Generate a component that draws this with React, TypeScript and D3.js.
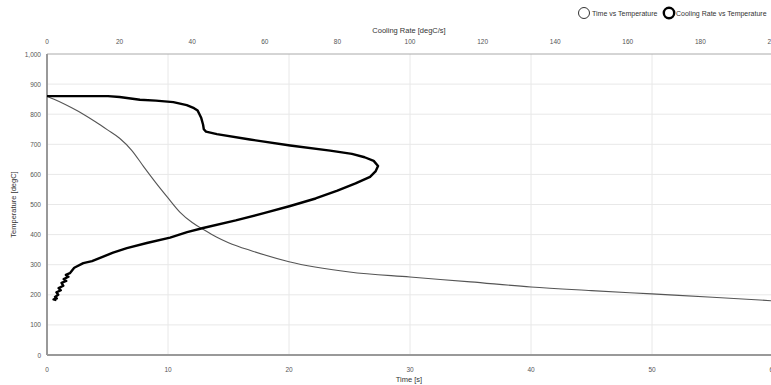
import * as d3 from "d3";

const width = 771;
const height = 385;
const margin = { top: 54, right: -2, bottom: 30, left: 47 };

const timeTicks = [0, 10, 20, 30, 40, 50, 60];
const rateTicks = [0, 20, 40, 60, 80, 100, 120, 140, 160, 180, 200];
const tempTicks = [0, 100, 200, 300, 400, 500, 600, 700, 800, 900, 1000];

// Time vs Temperature (thin line)
const timeValues = [0, 1, 2, 3, 4, 5, 6, 7, 8, 9, 10, 11, 12, 13, 14, 15, 17, 20, 25, 30, 35, 40, 45, 50, 55, 60];
const timeTemps = [860, 842, 822, 800, 775, 748, 720, 680, 625, 572, 522, 474, 440, 415, 392, 373, 345, 310, 276, 259, 243, 226, 214, 203, 192, 180];

// Cooling Rate vs Temperature (thick line)
const rateValues = [0, 16.8, 20, 25.6, 30, 34.8, 38.5, 40.5, 41.5, 42, 42.5, 43, 43.2, 43.8, 46.8, 55.9, 67, 78, 84, 87.5, 90, 91.2, 90.5, 89, 85, 80, 74, 67, 60, 52, 43, 38.6, 33.9, 27.5, 22, 18.2, 12.4, 10, 7.5, 6.3, 5.2, 5.9, 4.6, 5.3, 4.0, 4.5, 3.2, 3.8, 2.6, 3.1, 2.2, 2.7, 1.8, 2.6];
const rateTemps = [860, 860, 857, 848, 845, 840, 830, 820, 812, 800, 787, 765, 750, 742, 734, 716, 696, 679, 668, 657, 645, 628, 610, 592, 570, 546, 520, 495, 472, 447, 422, 408, 390, 372, 355, 340, 312, 305, 290, 272, 266, 260, 252, 246, 240, 230, 222, 215, 208, 200, 193, 188, 185, 182];

const font = "'Liberation Sans', Arial, sans-serif";

export default function App() {
  const innerWidth = width - margin.left - margin.right;
  const innerHeight = height - margin.top - margin.bottom;
  const xTime = d3.scaleLinear().domain([0, 60]).range([0, innerWidth]);
  const xRate = d3.scaleLinear().domain([0, 200]).range([0, innerWidth]);
  const y = d3.scaleLinear().domain([0, 1000]).range([innerHeight, 0]);

  const timeLine = d3
    .line<number>()
    .x((d) => xTime(d))
    .y((_, i) => y(timeTemps[i]))
    .curve(d3.curveMonotoneX)(timeValues);
  const rateLine = d3
    .line<number>()
    .x((d) => xRate(d))
    .y((_, i) => y(rateTemps[i]))(rateValues);

  return (
    <svg width={width} height={height} style={{ position: "absolute", left: 0, top: 0, background: "#fff", fontFamily: font }}>
      {/* legend */}
      <g transform="translate(584, 13)">
        <circle r={5.5} fill="none" stroke="#333" strokeWidth={1} />
        <text x={8} y={2.5} fontSize={7} fill="#333">Time vs Temperature</text>
        <circle cx={85} r={5.2} fill="none" stroke="#000" strokeWidth={2.4} />
        <text x={92} y={2.5} fontSize={7} fill="#333">Cooling Rate vs Temperature</text>
      </g>

      <text x={409} y={33} textAnchor="middle" fontSize={7.5} fill="#333">Cooling Rate [degC/s]</text>
      <text x={409} y={382} textAnchor="middle" fontSize={7.5} fill="#333">Time [s]</text>
      <text transform={`translate(16, ${margin.top + innerHeight / 2}) rotate(-90)`} textAnchor="middle" fontSize={7.5} fill="#333">Temperature [degC]</text>

      <g transform={`translate(${margin.left}, ${margin.top})`}>
        {tempTicks.map((t) => (
          <g key={`y-${t}`} transform={`translate(0, ${y(t)})`}>
            {t > 0 && t < 1000 ? <line x1={0} x2={innerWidth} stroke="#e8e8e8" strokeWidth={1} /> : null}
            <text x={-6} y={2.5} textAnchor="end" fontSize={6.5} fill="#555">{d3.format(",")(t)}</text>
          </g>
        ))}
        {timeTicks.map((t) => (
          <g key={`x-${t}`} transform={`translate(${xTime(t)}, 0)`}>
            {t > 0 ? <line y1={0} y2={innerHeight} stroke="#e8e8e8" strokeWidth={1} /> : null}
            <text y={innerHeight + 17} textAnchor="middle" fontSize={6.5} fill="#555">{t}</text>
          </g>
        ))}
        {rateTicks.map((t) => (
          <text key={`r-${t}`} x={xRate(t)} y={-10} textAnchor="middle" fontSize={6.5} fill="#555">{t}</text>
        ))}

        <line x1={0} x2={innerWidth} y1={0} y2={0} stroke="#aaa" strokeWidth={1} />
        <line x1={0} x2={innerWidth} y1={innerHeight} y2={innerHeight} stroke="#999" strokeWidth={2} />
        <line x1={0} x2={0} y1={0} y2={innerHeight} stroke="#999" strokeWidth={2} />

        <path d={timeLine ?? ""} fill="none" stroke="#555" strokeWidth={1.1} />
        <path d={rateLine ?? ""} fill="none" stroke="#000" strokeWidth={2.4} strokeLinejoin="round" />
      </g>
    </svg>
  );
}
